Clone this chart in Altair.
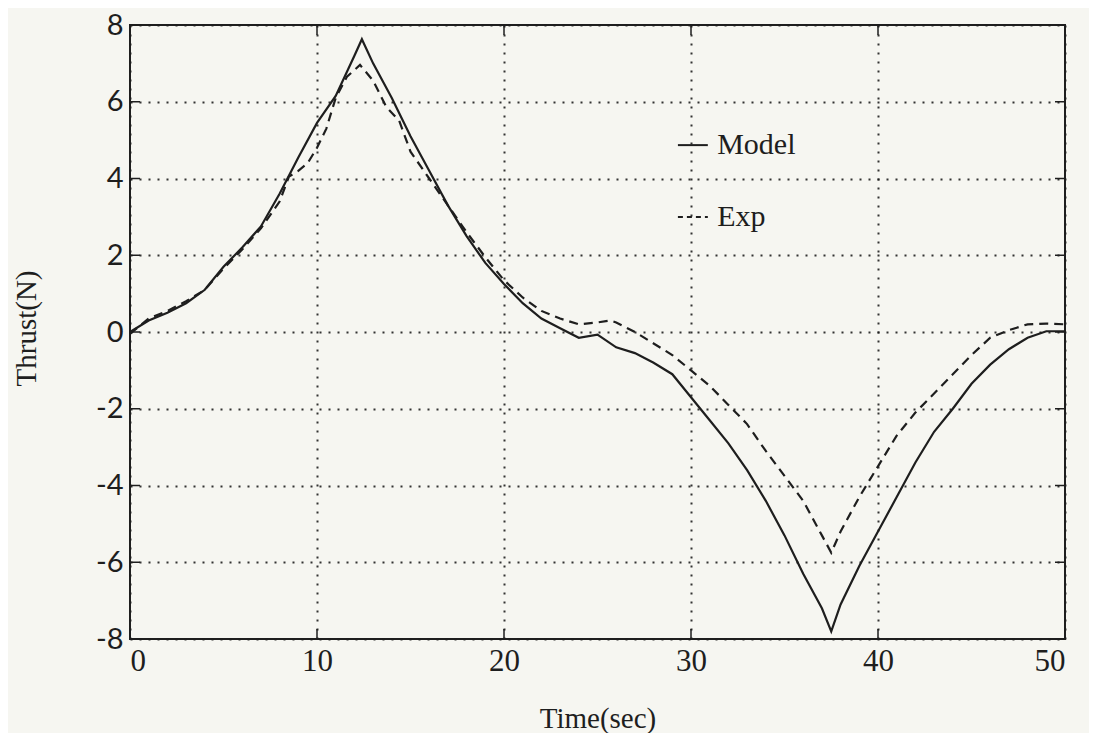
import altair as alt
import pandas as pd

model_t = [0, 1, 2, 3, 4, 5, 6, 7, 8, 9, 10, 11, 12, 12.4, 13, 14, 15, 16, 17, 18, 19, 20,
           21, 22, 23, 24, 25, 26, 27, 28, 29, 30, 31, 32, 33, 34, 35, 36, 37, 37.5, 38,
           39, 40, 41, 42, 43, 44, 45, 46, 47, 48, 49, 50]
model_v = [0.0, 0.3, 0.5, 0.75, 1.1, 1.7, 2.2, 2.75, 3.6, 4.55, 5.45, 6.15, 7.2, 7.63, 7.0,
           6.1, 5.1, 4.2, 3.3, 2.5, 1.8, 1.25, 0.75, 0.35, 0.1, -0.15, -0.07, -0.4, -0.55,
           -0.8, -1.1, -1.7, -2.3, -2.9, -3.6, -4.4, -5.3, -6.3, -7.2, -7.8, -7.1, -6.1,
           -5.2, -4.3, -3.4, -2.6, -2.0, -1.35, -0.85, -0.45, -0.15, 0.02, 0.02]

exp_t = [0, 1, 2, 3, 4, 5, 6, 7, 8, 8.5, 9, 9.5, 10, 10.5, 11, 11.6, 12.3, 13, 13.7, 14.4,
         15, 16, 17, 18, 19, 20, 21, 22, 23, 24, 25, 25.7, 26, 27, 28, 29, 30, 31, 32, 33,
         34, 35, 36, 37, 37.5, 38, 39, 40, 41, 42, 43, 44, 45, 46, 47, 48, 49, 50]
exp_v = [-0.05, 0.35, 0.55, 0.8, 1.1, 1.65, 2.15, 2.7, 3.4, 4.05, 4.2, 4.4, 4.8, 5.3, 6.1,
         6.65, 6.96, 6.55, 5.87, 5.5, 4.7, 4.0, 3.3, 2.6, 1.95, 1.35, 0.9, 0.55, 0.35, 0.2,
         0.25, 0.3, 0.25, 0.0, -0.3, -0.6, -1.0, -1.4, -1.9, -2.4, -3.1, -3.75, -4.4, -5.3,
         -5.75, -5.2, -4.3, -3.5, -2.7, -2.1, -1.6, -1.1, -0.6, -0.15, 0.05, 0.2, 0.22, 0.2]

x_ticks = [0, 10, 20, 30, 40, 50]
y_ticks = [-8, -6, -4, -2, 0, 2, 4, 6, 8]

legend_names = ["Model", "Exp"]
legend_y = [4.87, 3.0]
legend_x0 = [29.3, 29.3]
legend_x1 = [30.9, 30.9]
legend_tx = [31.4, 31.4]

W, H = 935, 614
FONT = "Liberation Serif"
INK = "#1e1e1e"

xs = alt.Scale(domain=[0, 50], nice=False)
ys = alt.Scale(domain=[-8, 8], nice=False)

dm = pd.DataFrame({"t": model_t, "v": model_v})
de = pd.DataFrame({"t": exp_t, "v": exp_v})
leg = pd.DataFrame({"name": legend_names, "y": legend_y, "x0": legend_x0,
                    "x1": legend_x1, "tx": legend_tx})
xt = pd.DataFrame({"v": x_ticks})
yt = pd.DataFrame({"v": y_ticks})

model_line = alt.Chart(dm).mark_line(color=INK, strokeWidth=2.2).encode(
    x=alt.X("t:Q", scale=xs,
            axis=alt.Axis(values=x_ticks, title="Time(sec)", grid=True, ticks=False,
                          labelPadding=7, labelFontSize=31,
                          titleY=88, titleBaseline="alphabetic",
                          labelExpr="'' + datum.value")),
    y=alt.Y("v:Q", scale=ys,
            axis=alt.Axis(values=y_ticks, title="Thrust(N)", grid=True, ticks=False,
                          labelPadding=7, labelFont="Lato", labelFontSize=29,
                          titleX=-104, titleY=303, titleBaseline="middle",
                          labelExpr="'' + datum.value")),
)
exp_line = alt.Chart(de).mark_line(color=INK, strokeWidth=2.2, strokeDash=[9, 6]).encode(
    x=alt.X("t:Q", scale=xs), y=alt.Y("v:Q", scale=ys)
)

leg_model = alt.Chart(leg[leg.name == "Model"]).mark_rule(color=INK, strokeWidth=2).encode(
    x=alt.X("x0:Q", scale=xs), x2="x1:Q", y=alt.Y("y:Q", scale=ys))
leg_exp = alt.Chart(leg[leg.name == "Exp"]).mark_rule(color=INK, strokeWidth=2,
                                                      strokeDash=[5, 4]).encode(
    x=alt.X("x0:Q", scale=xs), x2="x1:Q", y=alt.Y("y:Q", scale=ys))
leg_text = alt.Chart(leg).mark_text(align="left", baseline="middle", font=FONT,
                                    fontSize=30, color=INK).encode(
    x=alt.X("tx:Q", scale=xs), y=alt.Y("y:Q", scale=ys), text="name:N")

# inward tick marks on all four sides
xt_bottom = alt.Chart(xt).mark_rule(color=INK, strokeWidth=1.5).encode(
    x=alt.X("v:Q", scale=xs), y=alt.value(H), y2=alt.value(H - 10))
xt_top = alt.Chart(xt).mark_rule(color=INK, strokeWidth=1.5).encode(
    x=alt.X("v:Q", scale=xs), y=alt.value(0), y2=alt.value(10))
yt_left = alt.Chart(yt).mark_rule(color=INK, strokeWidth=1.5).encode(
    y=alt.Y("v:Q", scale=ys), x=alt.value(0), x2=alt.value(10))
yt_right = alt.Chart(yt).mark_rule(color=INK, strokeWidth=1.5).encode(
    y=alt.Y("v:Q", scale=ys), x=alt.value(W), x2=alt.value(W - 10))

chart = alt.layer(
    model_line, exp_line, leg_model, leg_exp, leg_text,
    xt_bottom, xt_top, yt_left, yt_right
).properties(
    width=W, height=H,
    padding={"left": 122, "top": 17, "right": 24, "bottom": 94},
    autosize=alt.AutoSizeParams(type="none"),
    background="#f6f6f1",
).configure_view(
    stroke=INK, strokeWidth=2
).configure_axis(
    domain=False,
    gridColor=INK, gridDash=[2, 7], gridWidth=2, gridOpacity=0.9,
    labelFont=FONT, labelFontSize=23, labelColor=INK,
    titleFont=FONT, titleFontSize=29, titleColor=INK, titleFontWeight="normal",
)

chart.save("out.html", embed_options={"renderer": "svg", "actions": False})
